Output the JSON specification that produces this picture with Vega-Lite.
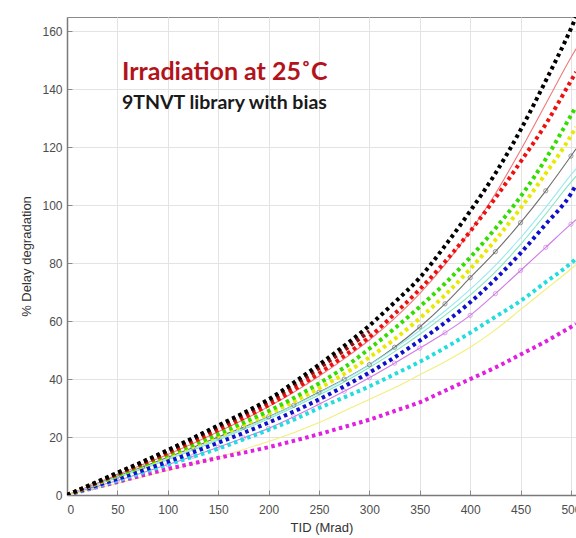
{
  "$schema": "https://vega.github.io/schema/vega-lite/v6.json",
  "autosize": {"type": "none"},
  "width": 509,
  "height": 478,
  "padding": {"left": 67, "top": 17, "right": 0, "bottom": 43},
  "background": "white",
  "config": {
    "view": {"stroke": "#8a8a8a", "strokeWidth": 1},
    "axis": {
      "labelFont": "Liberation Sans",
      "labelFontSize": 12,
      "labelColor": "#4d4d4d",
      "titleFont": "Liberation Sans",
      "titleFontSize": 13,
      "titleFontWeight": "normal",
      "titleColor": "#333333",
      "gridColor": "#e3e3e3",
      "gridWidth": 1,
      "domainColor": "#7a7a7a",
      "domainWidth": 1.5,
      "tickColor": "#8a8a8a",
      "tickSize": -5
    }
  },
  "datasets": {
    "curves": [
      {"x": 0, "bk": 0, "dr": 0, "rd": 0, "rl": 0, "gn": 0, "yd": 0, "gl": 0, "tl": 0, "cl": 0, "bl": 0, "vl": 0, "cd": 0, "yl": 0, "mg": 0},
      {"x": 25, "bk": 3.8, "dr": 3.6, "rd": 3.6, "rl": 3.4, "gn": 3.4, "yd": 3.3, "gl": 3.2, "tl": 3, "cl": 3.1, "bl": 2.8, "vl": 2.5, "cd": 2.5, "yl": 2, "mg": 2.3},
      {"x": 50, "bk": 7.7, "dr": 7.4, "rd": 7.3, "rl": 7, "gn": 6.8, "yd": 6.6, "gl": 6.5, "tl": 6, "cl": 6.2, "bl": 5.6, "vl": 5, "cd": 5, "yl": 4, "mg": 4.5},
      {"x": 75, "bk": 11.5, "dr": 11.2, "rd": 10.8, "rl": 10.5, "gn": 10.2, "yd": 9.9, "gl": 9.7, "tl": 9, "cl": 9.3, "bl": 8.5, "vl": 7.7, "cd": 7.7, "yl": 6.2, "mg": 6.8},
      {"x": 100, "bk": 15.5, "dr": 15.1, "rd": 14.5, "rl": 14, "gn": 13.8, "yd": 13.3, "gl": 13, "tl": 12.2, "cl": 12.5, "bl": 11.5, "vl": 10.5, "cd": 10.5, "yl": 8.5, "mg": 9},
      {"x": 125, "bk": 19.7, "dr": 19.2, "rd": 18.4, "rl": 17.8, "gn": 17.3, "yd": 16.8, "gl": 16.4, "tl": 15.5, "cl": 15.9, "bl": 14.7, "vl": 13.4, "cd": 13.2, "yl": 10.7, "mg": 10.9},
      {"x": 150, "bk": 24, "dr": 23.4, "rd": 22.5, "rl": 21.8, "gn": 21, "yd": 20.3, "gl": 20, "tl": 19, "cl": 19.4, "bl": 18, "vl": 16.5, "cd": 16, "yl": 13, "mg": 12.8},
      {"x": 175, "bk": 28.3, "dr": 27.7, "rd": 26.6, "rl": 26, "gn": 25, "yd": 24.1, "gl": 23.4, "tl": 22.6, "cl": 23, "bl": 21.4, "vl": 19.7, "cd": 19.2, "yl": 15.7, "mg": 14.6},
      {"x": 200, "bk": 33, "dr": 32.3, "rd": 31, "rl": 30.5, "gn": 29, "yd": 28, "gl": 27, "tl": 26.3, "cl": 26.8, "bl": 25, "vl": 23, "cd": 22.5, "yl": 18.5, "mg": 16.5},
      {"x": 225, "bk": 38.8, "dr": 37.8, "rd": 36.3, "rl": 35.5, "gn": 33.5, "yd": 32.2, "gl": 31, "tl": 30.3, "cl": 30.9, "bl": 28.8, "vl": 27, "cd": 26, "yl": 21.5, "mg": 18.7},
      {"x": 250, "bk": 45, "dr": 43.8, "rd": 42, "rl": 41, "gn": 38.5, "yd": 36.8, "gl": 35.5, "tl": 34.5, "cl": 35.2, "bl": 33, "vl": 31.3, "cd": 30, "yl": 25, "mg": 21},
      {"x": 275, "bk": 51.5, "dr": 50, "rd": 48, "rl": 47, "gn": 44, "yd": 41.8, "gl": 40, "tl": 39, "cl": 39.8, "bl": 37.5, "vl": 35.8, "cd": 33.7, "yl": 29, "mg": 23.5},
      {"x": 300, "bk": 58.5, "dr": 56.5, "rd": 54.5, "rl": 53.5, "gn": 50.5, "yd": 47.5, "gl": 45, "tl": 44, "cl": 44.9, "bl": 42.3, "vl": 40.5, "cd": 37.5, "yl": 33, "mg": 26},
      {"x": 325, "bk": 66.5, "dr": null, "rd": 62.5, "rl": 61, "gn": 57.5, "yd": 53.8, "gl": 51, "tl": 49.5, "cl": 50.6, "bl": 47.5, "vl": 45.5, "cd": 41.7, "yl": 37, "mg": 29},
      {"x": 350, "bk": 75, "dr": null, "rd": 71, "rl": 69.5, "gn": 65, "yd": 61, "gl": 58, "tl": 55.5, "cl": 56.8, "bl": 53.3, "vl": 50.7, "cd": 46, "yl": 41.5, "mg": 32},
      {"x": 375, "bk": 86, "dr": null, "rd": 80.5, "rl": 79.5, "gn": 73, "yd": 69, "gl": 66, "tl": 62, "cl": 63.5, "bl": 59.5, "vl": 56, "cd": 50.8, "yl": 46, "mg": 36},
      {"x": 400, "bk": 98, "dr": null, "rd": 91, "rl": 91, "gn": 82, "yd": 78, "gl": 75, "tl": 69, "cl": 71, "bl": 66.5, "vl": 62, "cd": 56, "yl": 51, "mg": 40},
      {"x": 425, "bk": 111, "dr": null, "rd": 102.5, "rl": 104, "gn": 92, "yd": 88, "gl": 84, "tl": 77, "cl": 79.3, "bl": 74.5, "vl": 69.5, "cd": 61.5, "yl": 57, "mg": 44},
      {"x": 450, "bk": 126, "dr": null, "rd": 115, "rl": 119, "gn": 103, "yd": 99, "gl": 94, "tl": 86.5, "cl": 88.8, "bl": 83.5, "vl": 77.5, "cd": 67, "yl": 64, "mg": 48.5},
      {"x": 475, "bk": 143, "dr": null, "rd": 128, "rl": 135, "gn": 116, "yd": 111, "gl": 105, "tl": 97, "cl": 99.3, "bl": 93.5, "vl": 85.5, "cd": 73.5, "yl": 71, "mg": 53},
      {"x": 500, "bk": 161, "dr": null, "rd": 143, "rl": 151, "gn": 131, "yd": 124, "gl": 117, "tl": 108, "cl": 110.5, "bl": 104, "vl": 93.5, "cd": 80, "yl": 78, "mg": 58},
      {"x": 505, "bk": 165, "dr": null, "rd": 146, "rl": 154, "gn": 134, "yd": 127, "gl": 119.5, "tl": 110, "cl": 112.6, "bl": 107, "vl": 95, "cd": 81.5, "yl": 79.5, "mg": 59}
    ]
  },
  "encoding": {
    "x": {
      "field": "x", "type": "quantitative",
      "scale": {"domain": [0, 505], "nice": false, "zero": false},
      "axis": {"title": "TID (Mrad)", "values": [0, 50, 100, 150, 200, 250, 300, 350, 400, 450, 500], "labelPadding": 14, "titlePadding": 6}
    },
    "y": {
      "field": "y", "type": "quantitative",
      "scale": {"domain": [0, 165], "nice": false},
      "axis": {"title": "% Delay degradation", "values": [0, 20, 40, 60, 80, 100, 120, 140, 160], "labelPadding": 10, "titlePadding": 8}
    }
  },
  "layer": [
    {
      "data": {"name": "curves"},
      "transform": [
        {"fold": ["rl", "gl", "tl", "cl", "vl", "yl"], "as": ["s", "y"]}
      ],
      "mark": {"type": "line", "strokeWidth": 1.1, "clip": true, "interpolate": "monotone"},
      "encoding": {
        "color": {"field": "s", "type": "nominal", "legend": null,
          "scale": {"domain": ["rl", "gl", "tl", "cl", "vl", "yl"], "range": ["#f07878", "#6e6e6e", "#80e6c0", "#99e8f2", "#d27ae6", "#f2ef7a"]}}
      }
    },
    {
      "data": {"name": "curves"},
      "transform": [
        {"fold": ["gl", "vl"], "as": ["s", "y"]},
        {"filter": "datum.x <= 500"}
      ],
      "mark": {"type": "point", "filled": false, "size": 18, "strokeWidth": 1, "clip": true},
      "encoding": {
        "color": {"field": "s", "type": "nominal", "legend": null,
          "scale": {"domain": ["rl", "gl", "tl", "cl", "vl", "yl"], "range": ["#f07878", "#6e6e6e", "#80e6c0", "#99e8f2", "#d27ae6", "#f2ef7a"]}}
      }
    },
    {
      "data": {"name": "curves"},
      "transform": [
        {"fold": ["mg", "cd", "bl", "yd", "gn", "rd", "dr", "bk"], "as": ["s", "y"]}
      ],
      "mark": {"type": "line", "strokeWidth": 4, "strokeDash": [3.5, 3.5], "strokeCap": "butt", "clip": true, "interpolate": "monotone"},
      "encoding": {
        "color": {"field": "s", "type": "nominal", "legend": null,
          "scale": {"domain": ["mg", "cd", "bl", "yd", "gn", "rd", "dr", "bk"], "range": ["#e020e0", "#22dddd", "#1010cc", "#e8e800", "#33dd00", "#ee1111", "#8b1010", "#000000"]}}
      }
    },
    {
      "data": {"values": [{"x": 54.6, "y": 143.1, "t": "Irradiation at 25˚C"}]},
      "mark": {"type": "text", "align": "left", "baseline": "alphabetic", "font": "Lato", "fontWeight": "bold", "fontSize": 25, "color": "#b3141c"},
      "encoding": {"text": {"field": "t"}}
    },
    {
      "data": {"values": [{"x": 54.6, "y": 133.4, "t": "9TNVT library with bias"}]},
      "mark": {"type": "text", "align": "left", "baseline": "alphabetic", "font": "Lato", "fontWeight": "bold", "fontSize": 19.5, "color": "#1a1a1a"},
      "encoding": {"text": {"field": "t"}}
    }
  ],
  "resolve": {"scale": {"color": "independent"}}
}
